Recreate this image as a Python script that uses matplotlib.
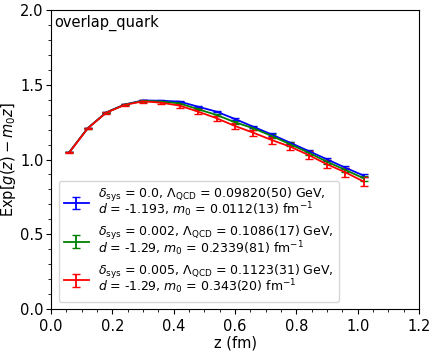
import numpy as np
import matplotlib
matplotlib.use("Agg")
import matplotlib.pyplot as plt
from matplotlib.ticker import MultipleLocator

# donnees
z = [0.06, 0.12, 0.18, 0.24, 0.30, 0.36, 0.42, 0.48, 0.54, 0.60,
     0.66, 0.72, 0.78, 0.84, 0.90, 0.96, 1.02]

blue_y = [1.050, 1.210, 1.315, 1.368, 1.395, 1.393, 1.387, 1.353, 1.320,
          1.271, 1.219, 1.167, 1.112, 1.057, 1.001, 0.945, 0.892]
blue_err = [0.002, 0.002, 0.003, 0.003, 0.003, 0.004, 0.004, 0.005, 0.005,
            0.006, 0.006, 0.007, 0.007, 0.008, 0.008, 0.009, 0.010]

green_y = [1.050, 1.210, 1.314, 1.367, 1.392, 1.388, 1.375, 1.336, 1.298,
           1.249, 1.209, 1.157, 1.102, 1.046, 0.985, 0.930, 0.874]
green_err = [0.002, 0.003, 0.004, 0.005, 0.006, 0.006, 0.007, 0.008, 0.009,
             0.010, 0.011, 0.012, 0.013, 0.014, 0.015, 0.016, 0.017]

red_y = [1.048, 1.209, 1.313, 1.365, 1.389, 1.380, 1.360, 1.320, 1.276,
         1.224, 1.179, 1.130, 1.086, 1.030, 0.968, 0.914, 0.852]
red_err = [0.003, 0.005, 0.006, 0.008, 0.010, 0.012, 0.014, 0.016, 0.018,
           0.020, 0.021, 0.023, 0.025, 0.027, 0.028, 0.030, 0.032]

labels = [r"$\delta_{\rm sys}$ = 0.0, $\Lambda_{\rm QCD}$ = 0.09820(50) GeV," "\n"
          r"$d$ = -1.193, $m_0$ = 0.0112(13) fm$^{-1}$",
          r"$\delta_{\rm sys}$ = 0.002, $\Lambda_{\rm QCD}$ = 0.1086(17) GeV," "\n"
          r"$d$ = -1.29, $m_0$ = 0.2339(81) fm$^{-1}$",
          r"$\delta_{\rm sys}$ = 0.005, $\Lambda_{\rm QCD}$ = 0.1123(31) GeV," "\n"
          r"$d$ = -1.29, $m_0$ = 0.343(20) fm$^{-1}$"]

fig = plt.figure(figsize=(4.36, 3.51), dpi=100)
ax = fig.add_axes([51/436, 1-309/351, 368/436, 299/351])

ax.errorbar(z, blue_y, yerr=blue_err, color='blue', capsize=3, lw=1.3, label=labels[0])
ax.errorbar(z, green_y, yerr=green_err, color='green', capsize=3, lw=1.3, label=labels[1])
ax.errorbar(z, red_y, yerr=red_err, color='red', capsize=3, lw=1.3, label=labels[2])

ax.set_xlim(0, 1.2)
ax.set_ylim(0, 2.0)
ax.xaxis.set_major_locator(MultipleLocator(0.2))
ax.xaxis.set_minor_locator(MultipleLocator(0.05))
ax.yaxis.set_major_locator(MultipleLocator(0.5))
ax.yaxis.set_minor_locator(MultipleLocator(0.1))
ax.tick_params(labelsize=10.5)
ax.tick_params(axis='y', pad=2)
ax.set_xlabel("z (fm)", fontsize=10.5, labelpad=1)
ax.set_ylabel(r"Exp$[g(z)-m_0 z]$", fontsize=10.5, labelpad=1)
ax.text(0.01, 0.985, "overlap_quark", transform=ax.transAxes, va='top', ha='left', fontsize=10.5)
leg = ax.legend(loc='lower left', fontsize=9, labelspacing=0.4, borderaxespad=0.6)
for t in leg.get_texts():
    t.set_linespacing(0.78)

fig.savefig("out.png", dpi=100)
